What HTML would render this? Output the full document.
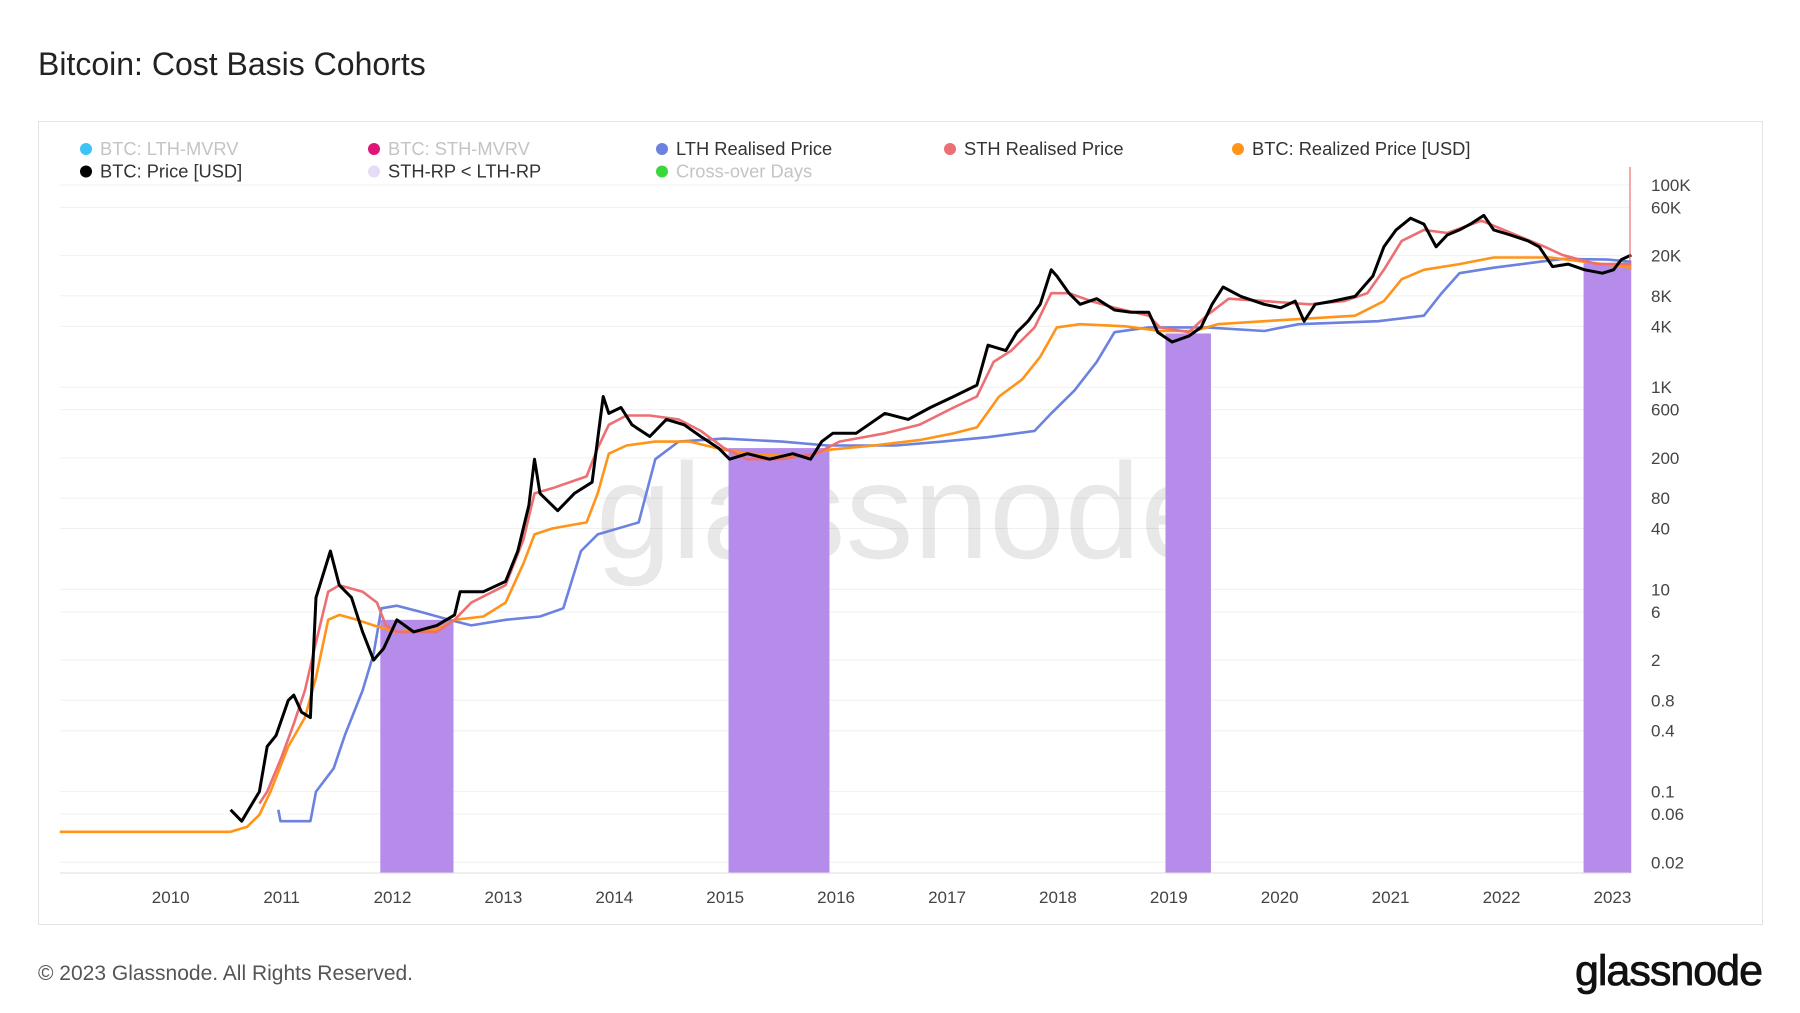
<!DOCTYPE html>
<html><head><meta charset="utf-8"><style>
body{margin:0;background:#fff;font-family:"Liberation Sans",sans-serif;}
#wrap{position:relative;width:1800px;height:1013px;overflow:hidden;}
</style></head><body>
<div id="wrap">
<svg id="chart" width="1800" height="1013" xmlns="http://www.w3.org/2000/svg">
<text x="38" y="75" font-size="32" fill="#222" font-family="Liberation Sans, sans-serif">Bitcoin: Cost Basis Cohorts</text>
<rect x="38.5" y="121.5" width="1724" height="803" fill="#fff" stroke="#e3e3e3"/>
<g id="grid"></g>
<text x="906" y="558" font-size="136" fill="#000" fill-opacity="0.09" text-anchor="middle" font-family="Liberation Sans, sans-serif">glassnode</text>
<g id="bands"></g>
<g id="lines"></g>
<line x1="60" y1="873" x2="1630" y2="873" stroke="#ddd"/>
<line x1="1630" y1="167" x2="1630" y2="262" stroke="#ec6f73" stroke-width="1.2"/>
<g id="yticks"></g>
<g id="xticks"></g>
<g id="legend"></g>
<text x="38" y="980" font-size="21" fill="#555" font-family="Liberation Sans, sans-serif">© 2023 Glassnode. All Rights Reserved.</text>
<text x="1762" y="985" font-size="43" fill="#111" text-anchor="end" font-family="Liberation Sans, sans-serif" letter-spacing="-1" stroke="#111" stroke-width="0.8">glassnode</text>
</svg>
</div>
<script>
const yTickLabels=["100K","60K","20K","8K","4K","1K","600","200","80","40","10","6","2","0.8","0.4","0.1","0.06","0.02"];
const yTickValues=[100000,60000,20000,8000,4000,1000,600,200,80,40,10,6,2,0.8,0.4,0.1,0.06,0.02];
const xTickYears=[2010,2011,2012,2013,2014,2015,2016,2017,2018,2019,2020,2021,2022,2023];

const priceDates=[2010.54,2010.64,2010.80,2010.87,2010.95,2011.06,2011.11,2011.18,2011.26,2011.31,
2011.44,2011.52,2011.63,2011.73,2011.83,2011.92,2012.04,2012.19,2012.40,2012.56,
2012.61,2012.82,2013.02,2013.13,2013.23,2013.28,2013.33,2013.49,2013.64,2013.80,
2013.90,2013.95,2014.06,2014.16,2014.32,2014.47,2014.63,2014.78,2014.94,2015.04,
2015.20,2015.40,2015.61,2015.77,2015.87,2015.97,2016.18,2016.44,2016.65,2016.85,
2017.06,2017.27,2017.37,2017.53,2017.63,2017.73,2017.84,2017.94,2017.99,2018.10,
2018.20,2018.35,2018.51,2018.66,2018.82,2018.90,2019.03,2019.18,2019.29,2019.39,
2019.49,2019.65,2019.86,2020.01,2020.14,2020.22,2020.32,2020.48,2020.68,2020.84,
2020.94,2021.05,2021.18,2021.30,2021.41,2021.51,2021.62,2021.72,2021.84,2021.93,
2022.08,2022.24,2022.34,2022.46,2022.60,2022.75,2022.91,2023.01,2023.08,2023.17];
const priceValues=[0.066,0.051,0.1,0.28,0.36,0.8,0.9,0.61,0.54,8.3,
24,11,8.3,3.8,2,2.6,5,3.8,4.4,5.6,
9.5,9.5,12,24,68,194,89,60,89,115,
810,550,630,425,325,480,425,325,250,194,
220,194,220,194,290,350,350,550,480,630,
810,1050,2600,2300,3500,4500,6600,14500,12600,8500,
6600,7500,5800,5500,5500,3500,2800,3200,3900,6600,
9800,7900,6600,6100,7100,4500,6600,7100,7900,12600,
24500,36000,47000,41000,24500,32000,36000,41000,50000,36000,
32000,28000,24500,15600,16500,14500,13400,14500,18300,20300];

const sthDates=[2010.80,2010.87,2011.00,2011.11,2011.21,2011.31,2011.42,2011.52,2011.73,2011.86,2011.94,2012.04,2012.40,2012.56,2012.71,2013.02,2013.18,2013.28,2013.44,2013.75,2013.85,2013.95,2014.11,2014.32,2014.58,2014.78,2014.99,2015.20,2015.51,2015.82,2016.03,2016.44,2016.75,2017.06,2017.27,2017.42,2017.58,2017.79,2017.94,2018.10,2018.30,2018.51,2018.82,2018.92,2019.18,2019.34,2019.54,2019.86,2020.27,2020.58,2020.79,2020.94,2021.10,2021.30,2021.51,2021.82,2022.13,2022.39,2022.55,2022.86,2023.17];
const sthValues=[0.076,0.1,0.22,0.47,1.0,3,9.5,11,9.5,7.4,4.4,3.8,3.8,5,7.4,11,31,89,100,131,250,425,525,525,480,370,250,194,194,220,290,350,425,630,810,1780,2300,3900,8500,8500,7100,6100,5100,3900,3500,5100,7500,7100,6600,7100,8500,14500,28000,36000,33500,44300,32000,24500,20300,16500,16500];

const rpDates=[2009.00,2010.54,2010.69,2010.80,2010.90,2011.06,2011.21,2011.31,2011.42,2011.52,2011.68,2011.83,2012.04,2012.40,2012.56,2012.82,2013.02,2013.18,2013.28,2013.44,2013.75,2013.85,2013.95,2014.11,2014.37,2014.68,2014.99,2015.30,2015.71,2015.92,2016.34,2016.75,2017.06,2017.27,2017.47,2017.68,2017.84,2017.99,2018.20,2018.61,2018.92,2019.23,2019.44,2019.86,2020.68,2020.94,2021.10,2021.30,2021.62,2021.93,2022.44,2022.75,2023.17];
const rpValues=[0.04,0.04,0.045,0.059,0.1,0.28,0.54,1.35,5,5.6,5,4.4,3.8,4,5,5.4,7.4,18,35,40,46,89,220,265,290,290,240,215,205,240,265,300,350,400,810,1200,2000,3900,4200,4000,3600,3600,4200,4500,5100,7100,11700,14500,16500,19200,19200,17400,15200];

const lthDates=[2010.97,2010.99,2011.26,2011.31,2011.47,2011.57,2011.73,2011.83,2011.90,2012.04,2012.25,2012.51,2012.71,2013.02,2013.33,2013.54,2013.70,2013.85,2014.22,2014.37,2014.58,2014.99,2015.51,2015.92,2016.54,2016.96,2017.37,2017.79,2017.94,2018.15,2018.35,2018.51,2018.82,2019.34,2019.86,2020.17,2020.89,2021.30,2021.46,2021.62,2021.93,2022.34,2022.55,2022.96,2023.17];
const lthValues=[0.066,0.051,0.051,0.1,0.17,0.36,1,2.3,6.5,6.9,6.0,5,4.4,5,5.4,6.5,24,35,46,194,290,310,290,265,265,290,320,370,550,930,1780,3500,3900,3900,3600,4200,4500,5100,8500,13400,15200,17400,18600,18300,17400];

const bandStarts=[2011.89,2015.03,2018.97,2022.74];
const bandEnds=[2012.55,2015.94,2019.38,2023.17];
const bandTops=[5,250,3400,17000];

const NS="http://www.w3.org/2000/svg";
const X0=2009, PX0=59.8, PXY=110.9, PBOT=873;
function xs(t){return PX0+(t-X0)*PXY;}
function ys(v){return 185+(5-Math.log10(v))*101.1;}
function mk(tag,attrs,parent){const e=document.createElementNS(NS,tag);for(const k in attrs)e.setAttribute(k,attrs[k]);parent.appendChild(e);return e;}

const grid=document.getElementById('grid');
yTickValues.forEach(v=>{const l=mk('line',{x1:60,x2:1630,y1:ys(v),y2:ys(v),stroke:'#f0f0f0','stroke-width':1},grid);

});

const bands=document.getElementById('bands');
bandStarts.forEach((s,i)=>{const r=mk('rect',{x:xs(s),y:ys(bandTops[i]),width:xs(bandEnds[i])-xs(s),height:PBOT-ys(bandTops[i]),fill:'#b68ceb'},bands);

});

const lines=document.getElementById('lines');
function drawLine(d,v,color,w,name){let p='';d.forEach((t,i)=>{p+=(i?'L':'M')+xs(t).toFixed(1)+','+ys(v[i]).toFixed(1);});
const e=mk('path',{d:p,fill:'none',stroke:color,'stroke-width':w,'stroke-linejoin':'round'},lines);

}
drawLine(lthDates,lthValues,'#6b82e0',2.6,'lth-realised-price-line');
drawLine(rpDates,rpValues,'#ff9419',2.6,'realized-price-line');
drawLine(sthDates,sthValues,'#ec6f73',2.6,'sth-realised-price-line');
drawLine(priceDates,priceValues,'#000',3,'btc-price-line');

const yt=document.getElementById('yticks');
yTickLabels.forEach((lab,i)=>{const t=mk('text',{x:1651,y:ys(yTickValues[i])+6,'font-size':17,fill:'#444','font-family':'Liberation Sans, sans-serif'},yt);t.textContent=lab;

});
const xt=document.getElementById('xticks');
xTickYears.forEach(yr=>{const t=mk('text',{x:xs(yr),y:903,'font-size':17,fill:'#444','text-anchor':'middle','font-family':'Liberation Sans, sans-serif'},xt);t.textContent=yr;

});

const legendLabels=["BTC: LTH-MVRV","BTC: STH-MVRV","LTH Realised Price","STH Realised Price","BTC: Realized Price [USD]","BTC: Price [USD]","STH-RP < LTH-RP","Cross-over Days"];
const legendColors=["#3fc3f7","#e0157a","#6b82e0","#ec6f73","#ff9419","#000000","#e6dcf7","#3ad83a"];
const legendActive=[false,false,true,true,true,true,true,false];
const lg=document.getElementById('legend');
legendLabels.forEach((lab,i)=>{const col=i%5,row=Math.floor(i/5);const x=86+col*288,y=149+row*22.5;
const g=mk('g',{},lg);


mk('circle',{cx:x,cy:y,r:6,fill:legendColors[i]},g);
const t=mk('text',{x:x+14,y:y+6,'font-size':18.3,fill:legendActive[i]?'#333':'#c4c4c4','font-family':'Liberation Sans, sans-serif'},g);t.textContent=lab;});
</script>
</body></html>
